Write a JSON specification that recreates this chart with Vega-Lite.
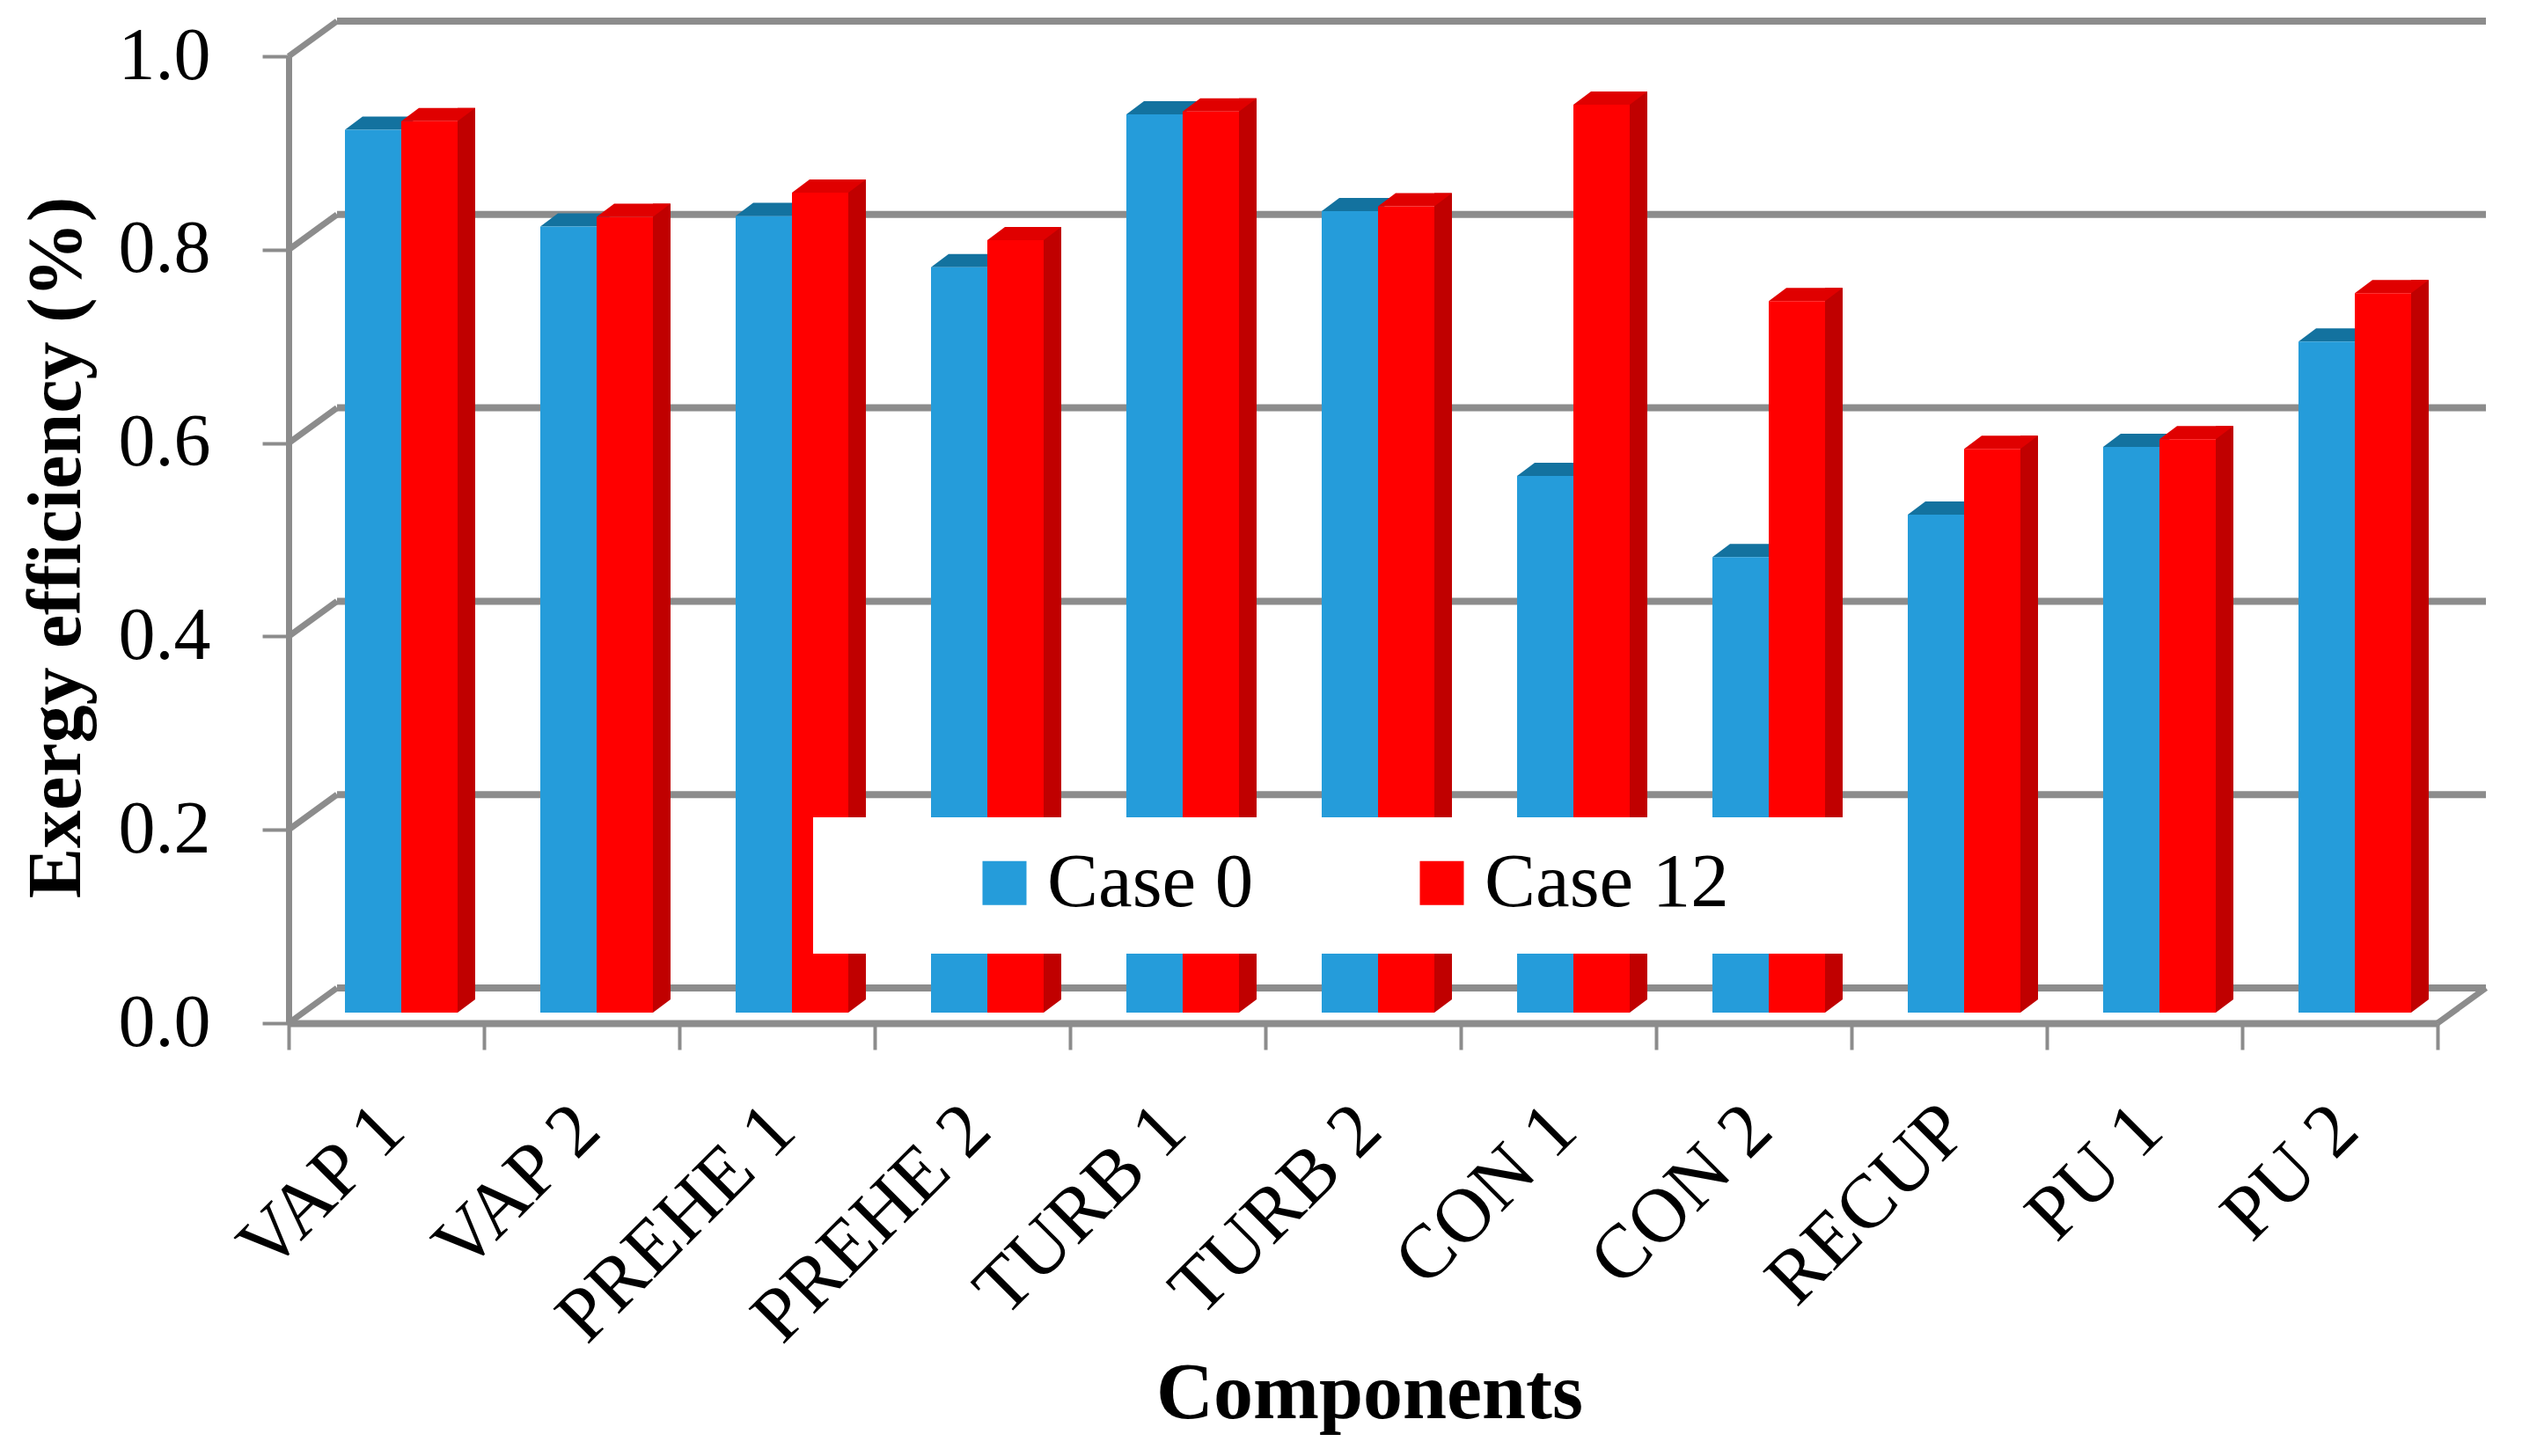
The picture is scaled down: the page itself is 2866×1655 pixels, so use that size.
{
"$schema":"https://vega.github.io/schema/vega-lite/v6.json",
"width":2442,"height":1099,
"autosize":{"type":"none"},
"padding":{"left":328,"top":64,"right":96,"bottom":492},
"background":"white",
"config":{"font":"Liberation Serif","view":{"stroke":null}},
"datasets":{
"bars":[
{"component":"VAP 1","case":"Case 0","value":0.913},{"component":"VAP 1","case":"Case 12","value":0.922},
{"component":"VAP 2","case":"Case 0","value":0.813},{"component":"VAP 2","case":"Case 12","value":0.823},
{"component":"PREHE 1","case":"Case 0","value":0.824},{"component":"PREHE 1","case":"Case 12","value":0.848},
{"component":"PREHE 2","case":"Case 0","value":0.771},{"component":"PREHE 2","case":"Case 12","value":0.799},
{"component":"TURB 1","case":"Case 0","value":0.929},{"component":"TURB 1","case":"Case 12","value":0.932},
{"component":"TURB 2","case":"Case 0","value":0.829},{"component":"TURB 2","case":"Case 12","value":0.834},
{"component":"CON 1","case":"Case 0","value":0.555},{"component":"CON 1","case":"Case 12","value":0.939},
{"component":"CON 2","case":"Case 0","value":0.471},{"component":"CON 2","case":"Case 12","value":0.736},
{"component":"RECUP","case":"Case 0","value":0.515},{"component":"RECUP","case":"Case 12","value":0.583},
{"component":"PU 1","case":"Case 0","value":0.585},{"component":"PU 1","case":"Case 12","value":0.593},
{"component":"PU 2","case":"Case 0","value":0.694},{"component":"PU 2","case":"Case 12","value":0.744}
],
"ticks":[{"tick":0},{"tick":0.2},{"tick":0.4},{"tick":0.6},{"tick":0.8},{"tick":1}],
"one":[{"item":"box"}]
},
"data":{"name":"bars"},
"layer":[
{"data":{"name":"ticks"},
 "mark":{"type":"point","shape":"M0 0L55 -40","size":4,"filled":false,"stroke":"#8c8c8c","strokeWidth":7,"opacity":1,"xOffset":-111},
 "encoding":{"x":{"datum":"VAP 1","type":"nominal","scale":{"domain":["VAP 1","VAP 2","PREHE 1","PREHE 2","TURB 1","TURB 2","CON 1","CON 2","RECUP","PU 1","PU 2"],"paddingInner":0,"paddingOuter":0},
   "axis":{"title":"Components","tickBand":"extent","grid":false,"domainColor":"#8c8c8c","domainWidth":8,"tickColor":"#8c8c8c","tickWidth":4,"tickSize":30,
   "labelFontSize":87,"labelColor":"black","labelAngle":-45,"labelAlign":"right","labelBaseline":"middle","labelPadding":77,"labelOffset":6,"labelLimit":1000,"labelOverlap":false,"labelFont":"Liberation Serif",
   "titleFontSize":90,"titleFontWeight":"bold","titleColor":"black","titleFont":"Liberation Serif","titleX":1228,"titleY":421,"titleBaseline":"middle","titleAnchor":"middle"}},
  "y":{"field":"tick","type":"quantitative","scale":{"domain":[0,1],"nice":false},
  "axis":{"values":[0,0.2,0.4,0.6,0.8,1],"format":".1f","title":"Exergy efficiency (%)","grid":false,
   "domainColor":"#8c8c8c","domainWidth":7,"tickColor":"#8c8c8c","tickWidth":4,"tickSize":30,
   "labelFontSize":84,"labelColor":"black","labelPadding":59,"labelFont":"Liberation Serif",
   "titleFontSize":86,"titleFontWeight":"bold","titleColor":"black","titleFont":"Liberation Serif","titleX":-264,"titleY":558,"titleBaseline":"middle","titleAnchor":"middle"}}}},
{"data":{"name":"ticks"},
 "mark":{"type":"rule","color":"#8c8c8c","strokeWidth":8,"xOffset":-56,"x2Offset":166,"yOffset":-40},
 "encoding":{"x":{"datum":"VAP 1","type":"nominal"},"x2":{"datum":"PU 2"},"y":{"field":"tick","type":"quantitative"}}},
{"data":{"name":"one"},
 "mark":{"type":"point","shape":"M0 0L55 -40","size":4,"filled":false,"stroke":"#8c8c8c","strokeWidth":7,"opacity":1,"xOffset":111},
 "encoding":{"x":{"datum":"PU 2","type":"nominal"},"y":{"datum":0,"type":"quantitative"}}},
{"transform":[{"filter":"datum.case === 'Case 0'"}],
 "mark":{"type":"point","shape":"M0 0L20 -15L84 -15L64 0Z","size":4,"filled":true,"color":"#13729f","opacity":1,"xOffset":-47,"yOffset":-12},
 "encoding":{"x":{"field":"component","type":"nominal"},"y":{"field":"value","type":"quantitative"}}},
{"transform":[{"filter":"datum.case === 'Case 0'"}],
 "mark":{"type":"bar","width":64,"xOffset":-15,"yOffset":-12,"y2Offset":-12},
 "encoding":{"x":{"field":"component","type":"nominal"},"y":{"field":"value","type":"quantitative","stack":null},"y2":{"datum":0},
  "color":{"field":"case","type":"nominal","scale":{"domain":["Case 0","Case 12"],"range":["#259cda","#ff0000"]},
   "legend":{"title":null,"orient":"none","legendX":770,"legendY":896,"direction":"horizontal","columns":2,"padding":0,"zindex":1,"symbolType":"square","symbolSize":2500,"symbolStrokeWidth":0,"labelFontSize":87,"labelColor":"black","labelFont":"Liberation Serif","labelOffset":5,"labelLimit":1000,"columnPadding":170}}}},
{"transform":[{"filter":"datum.case === 'Case 12'"}],
 "mark":{"type":"bar","width":20,"xOffset":91,"yOffset":-27,"y2Offset":-27,"color":"#c00000"},
 "encoding":{"x":{"field":"component","type":"nominal"},"y":{"field":"value","type":"quantitative","stack":null},"y2":{"datum":0}}},
{"transform":[{"filter":"datum.case === 'Case 12'"}],
 "mark":{"type":"point","shape":"M0 0L20 -15L0 -15Z","size":4,"filled":true,"color":"#c00000","opacity":1,"xOffset":81,"yOffset":-12},
 "encoding":{"x":{"field":"component","type":"nominal"},"y":{"datum":0,"type":"quantitative"}}},
{"transform":[{"filter":"datum.case === 'Case 12'"}],
 "mark":{"type":"point","shape":"M0 0L20 -15L84 -15L64 0Z","size":4,"filled":true,"color":"#e00000","opacity":1,"xOffset":17,"yOffset":-12},
 "encoding":{"x":{"field":"component","type":"nominal"},"y":{"field":"value","type":"quantitative"}}},
{"transform":[{"filter":"datum.case === 'Case 12'"}],
 "mark":{"type":"bar","width":64,"xOffset":49,"yOffset":-12,"y2Offset":-12},
 "encoding":{"x":{"field":"component","type":"nominal"},"y":{"field":"value","type":"quantitative","stack":null},"y2":{"datum":0},
  "color":{"field":"case","type":"nominal"}}},
{"data":{"name":"one"},
 "mark":{"type":"point","shape":"M0 0H1170V155H0Z","size":4,"filled":true,"color":"white","opacity":1,"xOffset":-181},
 "encoding":{"x":{"datum":"PREHE 2","type":"nominal"},"y":{"datum":0.213,"type":"quantitative"}}}
]
}
